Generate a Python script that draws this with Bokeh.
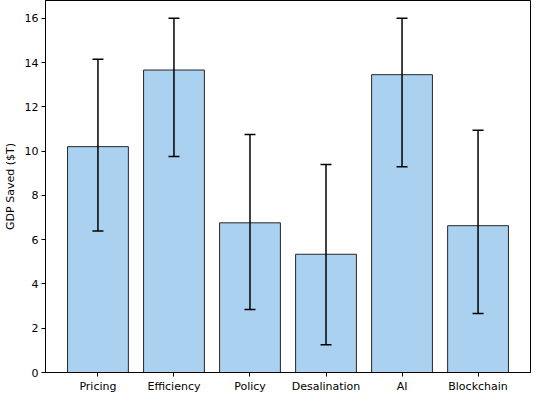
from bokeh.plotting import figure
from bokeh.models import ColumnDataSource, Range1d, FixedTicker, Whisker, TeeHead
from bokeh.embed import file_html
from bokeh.resources import INLINE

categories = ["Pricing", "Efficiency", "Policy", "Desalination", "AI", "Blockchain"]
gdp_saved = [10.2, 13.66, 6.76, 5.34, 13.45, 6.63]
err_upper = [14.15, 16.0, 10.75, 9.39, 16.0, 10.94]
err_lower = [6.39, 9.75, 2.84, 1.25, 9.29, 2.66]
y_ticks = [0, 2, 4, 6, 8, 10, 12, 14, 16]

xs = list(range(len(categories)))
src = ColumnDataSource(dict(x=xs, top=gdp_saved, upper=err_upper, lower=err_lower))

FONT = "DejaVu Sans"
p = figure(width=534, height=395, output_backend="svg", toolbar_location=None,
           x_range=Range1d(-0.69, len(categories) - 1 + 0.69),
           y_range=Range1d(0, 16.8),
           min_border_left=20, min_border_right=4, min_border_top=0, min_border_bottom=10)

p.vbar(x="x", top="top", width=0.8, bottom=0, source=src,
       fill_color="#aad1f0", line_color="#262626", line_width=1)

w = Whisker(base="x", upper="upper", lower="lower", source=src, level="overlay",
            line_color="black", line_width=1.5,
            upper_head=TeeHead(size=11, line_color="black", line_width=1.5),
            lower_head=TeeHead(size=11, line_color="black", line_width=1.5))
p.add_layout(w)

p.xgrid.visible = False
p.ygrid.visible = False
p.outline_line_color = "black"
p.outline_line_width = 1
p.background_fill_color = "white"
p.border_fill_color = "white"

p.xaxis.ticker = FixedTicker(ticks=xs)
p.xaxis.major_label_overrides = {i: c for i, c in enumerate(categories)}
p.yaxis.ticker = FixedTicker(ticks=y_ticks)
p.yaxis.axis_label = "GDP Saved ($T)"

for ax in (p.xaxis[0], p.yaxis[0]):
    ax.major_label_text_font = FONT
    ax.major_label_text_font_size = "11px"
    ax.major_label_text_color = "black"
    ax.axis_label_text_font = FONT
    ax.axis_label_text_font_size = "11px"
    ax.axis_label_text_font_style = "normal"
    ax.axis_label_text_color = "black"
    ax.major_tick_in = 0
    ax.major_tick_out = 4
    ax.minor_tick_in = 0
    ax.minor_tick_out = 0
    ax.axis_line_color = "black"
    ax.major_tick_line_color = "black"
    ax.major_label_standoff = 3
p.yaxis.axis_label_standoff = 5

open("out.html", "w").write(file_html(p, INLINE))
